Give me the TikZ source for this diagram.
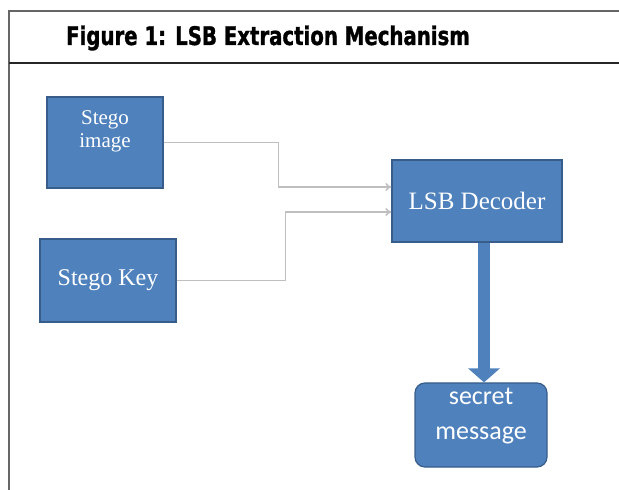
\documentclass[tikz,border=0pt]{standalone}
\usepackage{fontspec}
\usetikzlibrary{arrows.meta}
\newfontfamily\titlefont[FakeStretch=0.77,FakeBold=1.2]{DejaVu Sans}
\newfontfamily\boxfont{Liberation Serif}
\newfontfamily\msgfont{Carlito}
\definecolor{boxblue}{HTML}{4F81BD}
\definecolor{boxedge}{HTML}{385D8A}
\begin{document}
\begin{tikzpicture}[x=0.5pt,y=-0.5pt]
    \tikzstyle{rec} = [rectangle, draw=boxedge, fill=boxblue, line width=0.6pt,
        text=white, align=center, inner sep=0pt]
    \tikzstyle{inlabel} = [anchor=north, text=white, align=center, inner sep=0pt]
    \tikzstyle{link} = [-{To[length=3pt,width=4pt]}, draw=gray!50, line width=0.8pt]
    \tikzstyle{fat} = [-{Triangle[length=7pt,width=15.5pt]}, draw=boxblue,
        line width=6pt]

    \useasboundingbox (0,0) rectangle (619,490);
    \draw[line width=1pt, black!60] (619,11) -- (9,11) -- (9,490);
    \draw[line width=1pt, black!85] (9,63) -- (619,63);

    \node(title) at (268,45) [anchor=base]
        {\titlefont\bfseries\fontsize{12.8}{15}\selectfont Figure 1: LSB Extraction Mechanism};

    \node(simg) [rec, minimum width=58pt, minimum height=45.5pt]
        at (105,142.5)
        [label={[inlabel, yshift=-7pt, font=\boxfont\fontsize{10.5}{11.5}\selectfont]north:{Stego\\image}}] {};

    \node(skey) [rec, minimum width=68pt, minimum height=41.5pt,
        font=\boxfont\fontsize{12}{14}\selectfont]
        at (108,280.5) {Stego Key};

    \node(dec) [rec, minimum width=85pt, minimum height=41pt,
        font=\boxfont\fontsize{12.5}{15}\selectfont]
        at (477,201) {LSB Decoder};

    \node(msg) [rec, rounded corners=5pt, minimum width=66pt, minimum height=42pt]
        at (481,425)
        [label={[inlabel, yshift=-2.5pt, font=\msgfont\fontsize{13}{17.5}\selectfont]north:{secret\\message}}] {};

    \draw[link] (simg.east) -- ++(115,0) |- ([yshift=7pt]dec.west);
    \draw[link] (skey.east) -- ++(109,0) |- ([yshift=-5.5pt]dec.west);
    \draw[fat] ([xshift=1.5pt]msg.north |- dec.south) -- ([xshift=1.5pt]msg.north);
\end{tikzpicture}
\end{document}
